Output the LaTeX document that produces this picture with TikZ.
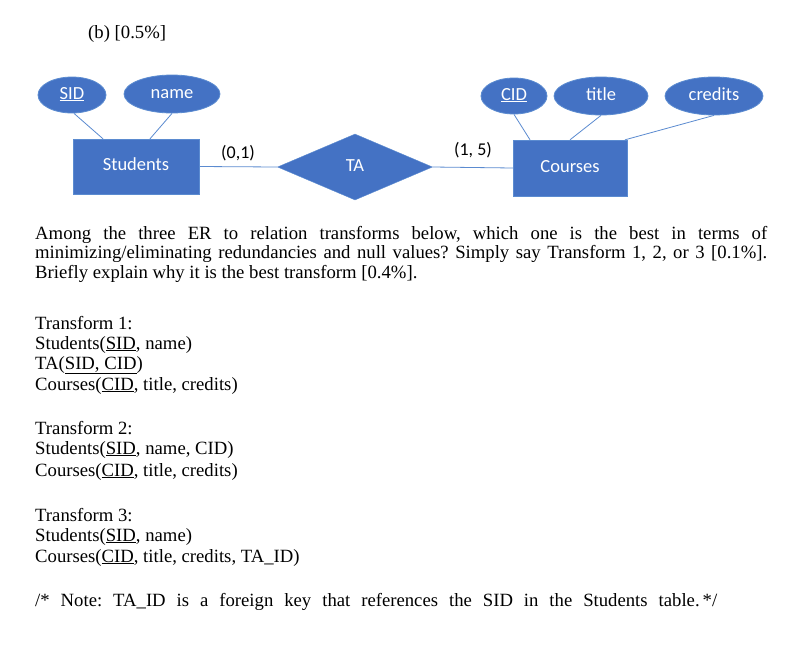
\documentclass[tikz,border=0pt]{standalone}
\usepackage{fontspec}
\setmainfont{Liberation Serif}
\newfontfamily\calib{Carlito}
\usetikzlibrary{shapes.geometric}
\definecolor{erblue}{HTML}{4472C4}
\definecolor{erline}{HTML}{5B8BD0}
\tikzset{
  erfont/.style={font=\calib\fontsize{18.5}{20}\selectfont, text height=11pt, text depth=3pt},
  ent/.style={erfont, draw=erline, fill=erblue, minimum width=126pt, minimum height=55pt, text=white, inner sep=0},
  att/.style={erfont, ellipse, draw=erline, fill=erblue, line width=0.8pt, text=white, inner sep=0},
  rel/.style={erfont, diamond, aspect=2.35, draw=erline, fill=erblue, minimum width=155pt, minimum height=66pt, text=white, inner sep=0},
  conn/.style={draw=erline, line width=0.8pt},
  card/.style={font=\calib\fontsize{18}{20}\selectfont},
  body/.style={anchor=base west, inner sep=0, font=\fontsize{18.7}{20}\selectfont}
}
\begin{document}
\frenchspacing
\begin{tikzpicture}[x=1pt,y=1pt]
\useasboundingbox[fill=white] (0,0) rectangle (800,-654);
\node[body] (hdr) at (88,-38) {(b) [0.5\%]};
\node[att, minimum width=68pt, minimum height=36pt] (sid) at (72,-95) {\underline{SID}};
\node[att, minimum width=96pt, minimum height=38pt] (name) at (172,-94) {name};
\node[att, minimum width=66pt, minimum height=36pt] (cid) at (514,-96) {\underline{CID}};
\node[att, minimum width=94pt, minimum height=38pt] (title) at (601,-96) {title};
\node[att, minimum width=98pt, minimum height=38pt] (credits) at (714,-96) {credits};
\node[ent] (stu) at (136,-166.5) {Students};
\node[ent, minimum width=114pt, minimum height=56pt] (crs) at (570,-168) {Courses};
\node[rel] (ta) at (355,-167) {TA};
\draw[conn] (sid.south) ++(2,0) -- ([xshift=-33pt]stu.north);
\draw[conn] (name.south) -- ([xshift=14pt]stu.north);
\draw[conn] (stu.east) -- (ta.west);
\draw[conn] (ta.east) -- (crs.west);
\draw[conn] (cid.south) -- ([xshift=-40pt]crs.north);
\draw[conn] (title.south) -- (crs.north);
\draw[conn] (credits.south) -- ([xshift=55pt]crs.north);
\node[card] (c1) at (238,-153) {(0,1)};
\node[card] (c2) at (473,-150) {(1, 5)};
\node[anchor=north west, inner sep=0, text width=732pt, align=justify, font=\fontsize{18.7}{19.5}\selectfont] (q) at (35,-226)
 {\hyphenpenalty=10000 Among the three ER to relation transforms below, which one is the best in terms of\linebreak minimizing/eliminating redundancies and null values? Simply say Transform 1, 2, or 3 [0.1\%].\linebreak Briefly explain why it is the best transform [0.4\%].};
\node[body] (t1) at (35,-329) {Transform 1:};
\node[body] (t1a) at (35,-349) {Students(\underline{SID}, name)};
\node[body] (t1b) at (35,-369) {TA(\underline{SID, CID})};
\node[body] (t1c) at (35,-390) {Courses(\underline{CID}, title, credits)};
\node[body] (t2) at (35,-434) {Transform 2:};
\node[body] (t2a) at (35,-454) {Students(\underline{SID}, name, CID)};
\node[body] (t2b) at (35,-476) {Courses(\underline{CID}, title, credits)};
\node[body] (t3) at (35,-521) {Transform 3:};
\node[body] (t3a) at (35,-541) {Students(\underline{SID}, name)};
\node[body] (t3b) at (35,-562) {Courses(\underline{CID}, title, credits, TA\_ID)};
\node[body] (note) at (35,-606) {\makebox[682pt][s]{/* Note: TA\_ID is a foreign key that references the SID in the Students table.\hspace{3pt}*/}};
\end{tikzpicture}
\end{document}
